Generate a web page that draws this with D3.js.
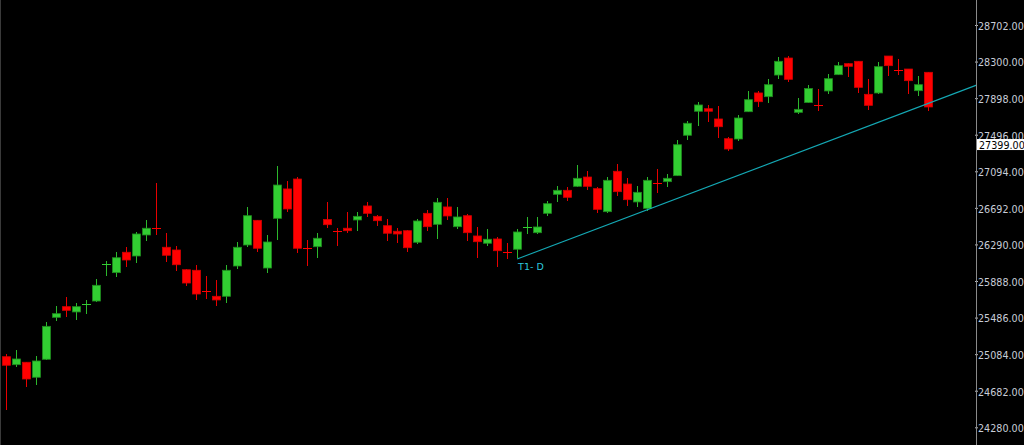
<!DOCTYPE html>
<html>
<head>
<meta charset="utf-8">
<script src="https://cdn.jsdelivr.net/npm/d3@7"></script>
<style>
  html, body { margin: 0; padding: 0; background: #000; }
  svg { display: block; }
</style>
</head>
<body>
<svg id="chart" width="1024" height="445"></svg>
<script>
// ---- data ----
const openV = [
25056, 24968, 24995, 24830, 25028, 25489, 25606, 25548, 25632, 25668,
26066, 25980, 26204, 26163, 26394, 26478, 26259, 26229, 26012, 26006,
25782, 25720, 25720, 26053, 26284, 26555, 26031, 26577, 26900, 27009,
26252, 26265, 26564, 26444, 26468, 26559, 26713, 26599, 26496, 26435,
26441, 26314, 26632, 26511, 26702, 26485, 26606, 26383, 26303, 26350,
26210, 26237, 26482, 26419, 26632, 26841, 26885, 26929, 27031, 26903,
26650, 27094, 26954, 26757, 26687, 26972, 26980, 27046, 27490, 27754,
27782, 27669, 27452, 27449, 27749, 27955, 27914, 28152, 28339, 27742,
27850, 27821, 27977, 28156, 28277, 28303, 27940, 27955, 28361, 28215,
28218, 27980, 28182];
const highV = [
25086, 25127, 25000, 25061, 25438, 25614, 25709, 25643, 25680, 25907,
26105, 26204, 26259, 26427, 26559, 26962, 26419, 26276, 26024, 26061,
25943, 25899, 26061, 26317, 26705, 26560, 26391, 27152, 26984, 27035,
26339, 26413, 26757, 26474, 26643, 26647, 26757, 26617, 26570, 26468,
26445, 26570, 26669, 26797, 26797, 26705, 26628, 26482, 26457, 26375,
26309, 26465, 26588, 26595, 26768, 26932, 26925, 27163, 27094, 26925,
27035, 27174, 27020, 26932, 27028, 27119, 27064, 27438, 27650, 27856,
27823, 27812, 27468, 27710, 27980, 27973, 28112, 28347, 28361, 27903,
28043, 27995, 28163, 28295, 28288, 28305, 28105, 28299, 28365, 28328,
28222, 28138, 28185];
const lowV = [
24470, 24946, 24727, 24749, 25020, 25452, 25489, 25460, 25526, 25660,
25943, 25929, 26045, 26089, 26328, 26394, 26097, 25998, 25837, 25680,
25690, 25617, 25650, 26023, 26259, 26210, 25973, 26339, 26650, 26193,
26056, 26138, 26474, 26273, 26413, 26441, 26595, 26496, 26331, 26309,
26210, 26295, 26441, 26353, 26559, 26463, 26328, 26144, 26276, 26045,
26130, 26138, 26402, 26402, 26603, 26760, 26764, 26918, 26888, 26632,
26639, 26826, 26716, 26698, 26661, 26859, 26925, 27040, 27438, 27595,
27639, 27463, 27320, 27430, 27742, 27804, 27845, 28112, 28075, 27720,
27841, 27760, 27940, 28150, 28134, 27951, 27768, 27940, 28141, 28149,
27944, 27925, 27760];
const closeV = [
24962, 25031, 24811, 25009, 25390, 25529, 25566, 25606, 25640, 25841,
26075, 26144, 26119, 26405, 26468, 26471, 26171, 26067, 25866, 25745,
25775, 25680, 26006, 26259, 26606, 26248, 26317, 26943, 26680, 26248,
26245, 26358, 26507, 26437, 26441, 26599, 26632, 26551, 26413, 26405,
26254, 26548, 26485, 26753, 26603, 26592, 26419, 26320, 26347, 26221,
26204, 26427, 26488, 26482, 26738, 26885, 26808, 27017, 26929, 26676,
26995, 26870, 26782, 26863, 26995, 26965, 27017, 27386, 27622, 27823,
27754, 27584, 27339, 27680, 27881, 27859, 28046, 28303, 28105, 27775,
28004, 27815, 28112, 28255, 28248, 28017, 27819, 28244, 28255, 28210,
28090, 28046, 27801];
const tickValues = [28702, 28300, 27898, 27496, 27094, 26692, 26290, 25888, 25486, 25084, 24682, 24280];
const currentPrice = 27399;
const trendIdx = [51, 64];
const trendPrice = [26130, 26672];
const trendLabel = "T1- D";

// ---- layout ----
const W = 1024, H = 445;
const axisX = 976.5;
const svg = d3.select("#chart");
svg.append("rect").attr("width", W).attr("height", H).attr("fill", "#000");

const candles = openV.map((o, i) => ({ i, o, h: highV[i], l: lowV[i], c: closeV[i] }));

const x = d3.scaleLinear().domain([0, candles.length - 1]).range([6, 928]);
const y = d3.scaleLinear().domain([24280, 28702]).range([427.3, 25]);

const GREEN = "#32cd32", GREEN_EDGE = "#1f8a1f", GREEN_WICK = "#2cb82c";
const RED = "#ff0000", RED_WICK = "#e80000";

// left border
svg.append("line").attr("x1", 0.5).attr("x2", 0.5).attr("y1", 0).attr("y2", H)
  .attr("stroke", "#3a3a3a").attr("stroke-width", 1);

const plot = svg.append("g");

// wicks
plot.selectAll("line.wick").data(candles).join("line")
  .attr("class", "wick")
  .attr("x1", d => Math.round(x(d.i)) + 0.5)
  .attr("x2", d => Math.round(x(d.i)) + 0.5)
  .attr("y1", d => y(d.h))
  .attr("y2", d => y(d.l))
  .attr("stroke", d => d.c >= d.o ? GREEN_WICK : RED_WICK)
  .attr("stroke-width", 1)
  .attr("shape-rendering", "crispEdges");

// bodies
const isDoji = d => Math.abs(y(d.o) - y(d.c)) < 1.5;
plot.selectAll("rect.body").data(candles.filter(d => !isDoji(d))).join("rect")
  .attr("class", "body")
  .attr("x", d => Math.round(x(d.i)) - 3.5)
  .attr("width", 8)
  .attr("y", d => Math.min(y(d.o), y(d.c)))
  .attr("height", d => Math.abs(y(d.o) - y(d.c)))
  .attr("fill", d => d.c >= d.o ? GREEN : RED)
  .attr("stroke", d => d.c >= d.o ? GREEN_EDGE : "#d00000")
  .attr("stroke-width", 0.8);

// doji bars
plot.selectAll("line.doji").data(candles.filter(isDoji)).join("line")
  .attr("class", "doji")
  .attr("x1", d => Math.round(x(d.i)) - 4)
  .attr("x2", d => Math.round(x(d.i)) + 5)
  .attr("y1", d => Math.round(y((d.o + d.c) / 2)) + 0.5)
  .attr("y2", d => Math.round(y((d.o + d.c) / 2)) + 0.5)
  .attr("stroke", d => d.c >= d.o ? GREEN : RED)
  .attr("stroke-width", 1.2)
  .attr("shape-rendering", "crispEdges");

// trend line (extended to the price axis)
const slope = (trendPrice[1] - trendPrice[0]) / (trendIdx[1] - trendIdx[0]);
const endIdx = x.invert(axisX);
const endPrice = trendPrice[0] + slope * (endIdx - trendIdx[0]);
svg.append("line")
  .attr("x1", x(trendIdx[0])).attr("y1", y(trendPrice[0]))
  .attr("x2", axisX).attr("y2", y(endPrice))
  .attr("stroke", "#14a8b4").attr("stroke-width", 1.1);
svg.append("text")
  .attr("x", x(trendIdx[0]) + 1).attr("y", y(trendPrice[0]) + 11)
  .attr("fill", "#2cc6dc")
  .attr("font-family", "DejaVu Sans, sans-serif")
  .attr("font-size", 9.5)
  .text(trendLabel);

// price axis
const axis = d3.axisRight(y).tickValues(tickValues).tickFormat(d3.format(".2f"))
  .tickSizeInner(3).tickSizeOuter(0).tickPadding(0);
const gAxis = svg.append("g").attr("transform", `translate(${axisX - 1.5},0)`).call(axis);
gAxis.select(".domain").remove();
gAxis.selectAll(".tick line").attr("stroke", "#b0b6c0");
gAxis.selectAll(".tick text")
  .attr("fill", "#c8cdd8")
  .attr("font-family", "DejaVu Sans, sans-serif")
  .attr("font-size", 9.6)
  .attr("dy", "0.45em");
svg.append("line").attr("x1", axisX).attr("x2", axisX).attr("y1", 0).attr("y2", H)
  .attr("stroke", "#8a8a8a").attr("stroke-width", 1);

// current price box
const cpY = y(currentPrice);
svg.append("rect")
  .attr("x", axisX + 0.5).attr("y", cpY - 4.5)
  .attr("width", W - axisX).attr("height", 11)
  .attr("fill", "#ffffff");
svg.append("text")
  .attr("x", axisX + 2.5).attr("y", cpY + 5)
  .attr("fill", "#000")
  .attr("font-family", "DejaVu Sans, sans-serif")
  .attr("font-size", 9.6)
  .text(d3.format(".2f")(currentPrice));
</script>
</body>
</html>
